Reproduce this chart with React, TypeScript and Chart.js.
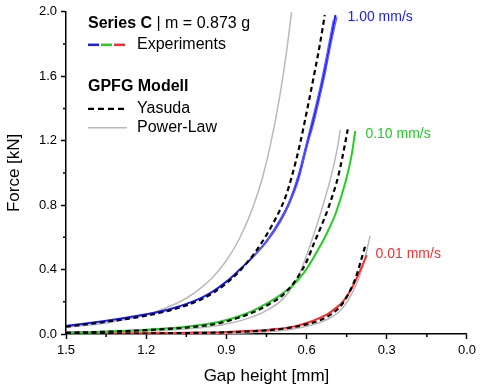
import React, { useEffect, useRef } from "react";
import { Chart, registerables } from "chart.js";
Chart.register(...registerables);

const FONT = "'Liberation Sans', Arial, sans-serif";

// Axis ticks
const xMajorTicks = [1.5, 1.2, 0.9, 0.6, 0.3, 0.0];
const xMinorTicks = [1.35, 1.05, 0.75, 0.45, 0.15];
const yMajorTicks = [0.0, 0.4, 0.8, 1.2, 1.6, 2.0];
const yMinorTicks = [0.2, 0.6, 1.0, 1.4, 1.8];

// Experiments 1.00 mm/s (three runs)
const exp100Gap = [1.50, 1.35, 1.20, 1.10, 1.00, 0.95, 0.90, 0.85, 0.80, 0.75, 0.70, 0.666, 0.63, 0.60, 0.57, 0.55, 0.53, 0.51, 0.492];
const exp100Force = [0.050, 0.082, 0.122, 0.160, 0.220, 0.265, 0.325, 0.400, 0.480, 0.575, 0.700, 0.810, 0.975, 1.170, 1.360, 1.500, 1.650, 1.820, 1.980];
const exp100bGap = [0.80, 0.75, 0.70, 0.666, 0.63, 0.60, 0.57, 0.55, 0.53, 0.51, 0.486];
const exp100bForce = [0.480, 0.570, 0.690, 0.800, 0.955, 1.150, 1.330, 1.470, 1.620, 1.790, 1.970];
const exp100cGap = [0.80, 0.75, 0.70, 0.666, 0.63, 0.60, 0.57, 0.55, 0.53, 0.515, 0.50];
const exp100cForce = [0.480, 0.580, 0.710, 0.820, 0.995, 1.190, 1.390, 1.530, 1.690, 1.820, 1.950];

// Experiments 0.10 mm/s
const exp010Gap = [1.50, 1.35, 1.20, 1.05, 0.95, 0.90, 0.85, 0.80, 0.75, 0.70, 0.65, 0.617, 0.59, 0.567, 0.53, 0.517, 0.492, 0.455, 0.431, 0.418];
const exp010Force = [0.010, 0.016, 0.027, 0.045, 0.068, 0.087, 0.112, 0.145, 0.188, 0.240, 0.305, 0.365, 0.430, 0.495, 0.605, 0.650, 0.745, 0.940, 1.115, 1.260];

// Experiments 0.01 mm/s
const exp001Gap = [1.50, 1.35, 1.20, 1.05, 0.90, 0.80, 0.74, 0.64, 0.60, 0.555, 0.52, 0.492, 0.465, 0.443, 0.42, 0.406, 0.39, 0.375];
const exp001Force = [0.002, 0.003, 0.005, 0.008, 0.013, 0.020, 0.027, 0.049, 0.068, 0.097, 0.125, 0.159, 0.200, 0.251, 0.320, 0.370, 0.430, 0.490];

// GPFG Modell - Yasuda
const yas100Gap = [1.50, 1.35, 1.20, 1.10, 1.00, 0.95, 0.90, 0.85, 0.80, 0.75, 0.71, 0.68, 0.654, 0.626, 0.592, 0.567, 0.55, 0.532];
const yas100Force = [0.045, 0.076, 0.114, 0.152, 0.210, 0.255, 0.315, 0.392, 0.490, 0.615, 0.735, 0.845, 0.985, 1.170, 1.440, 1.650, 1.800, 1.980];
const yas010Gap = [1.50, 1.35, 1.20, 1.05, 0.95, 0.90, 0.80, 0.74, 0.69, 0.641, 0.60, 0.573, 0.545, 0.517, 0.48, 0.455, 0.446];
const yas010Force = [0.008, 0.014, 0.024, 0.040, 0.060, 0.078, 0.135, 0.185, 0.240, 0.333, 0.450, 0.560, 0.670, 0.790, 0.990, 1.190, 1.270];
const yas001Gap = [1.50, 1.20, 1.05, 0.90, 0.80, 0.70, 0.666, 0.60, 0.555, 0.52, 0.48, 0.455, 0.431, 0.415, 0.40, 0.379];
const yas001Force = [0.001, 0.003, 0.006, 0.010, 0.017, 0.030, 0.038, 0.060, 0.082, 0.110, 0.160, 0.215, 0.290, 0.355, 0.436, 0.556];

// GPFG Modell - Power-Law
const pow100Gap = [1.50, 1.35, 1.20, 1.10, 1.05, 1.00, 0.95, 0.90, 0.85, 0.80, 0.765, 0.735, 0.70, 0.676, 0.656];
const pow100Force = [0.042, 0.069, 0.119, 0.180, 0.222, 0.280, 0.354, 0.456, 0.596, 0.790, 0.970, 1.175, 1.480, 1.740, 2.000];
const pow010Gap = [1.50, 1.35, 1.20, 1.05, 0.95, 0.90, 0.80, 0.74, 0.69, 0.654, 0.62, 0.585, 0.542, 0.505, 0.483, 0.474];
const pow010Force = [0.006, 0.010, 0.017, 0.031, 0.048, 0.062, 0.108, 0.155, 0.215, 0.290, 0.400, 0.560, 0.780, 1.000, 1.170, 1.265];
const pow001Gap = [1.50, 1.20, 0.90, 0.80, 0.691, 0.62, 0.567, 0.52, 0.48, 0.45, 0.424, 0.405, 0.387, 0.362];
const pow001Force = [0.000, 0.001, 0.005, 0.010, 0.022, 0.040, 0.062, 0.093, 0.135, 0.195, 0.272, 0.345, 0.436, 0.611];

// Speed labels
const speedLabels = ["1.00 mm/s", "0.10 mm/s", "0.01 mm/s"];
const speedLabelGap = [0.447, 0.380, 0.342];
const speedLabelForce = [1.965, 1.238, 0.494];

const BLUE = "#1a1aff";
const BLUE_LIGHT = "#5a5aff";
const GREEN = "#1ed21e";
const RED = "#ff2b2b";
const GRAY = "#b9b9b9";
const speedColors = [BLUE, "#1ecf1e", RED];

const pts = (g: number[], f: number[]) => g.map((x, i) => ({ x, y: f[i] }));

const decorPlugin = {
  id: "decor",
  afterDraw(chart: any) {
    const { ctx, chartArea, scales } = chart;
    const xs = scales.x, ys = scales.y;
    ctx.save();
    // minor ticks
    ctx.strokeStyle = "#000";
    ctx.lineWidth = 1.5;
    ctx.beginPath();
    xMinorTicks.forEach((v) => {
      const px = xs.getPixelForValue(v);
      ctx.moveTo(px, chartArea.bottom);
      ctx.lineTo(px, chartArea.bottom + 3);
    });
    yMinorTicks.forEach((v) => {
      const py = ys.getPixelForValue(v);
      ctx.moveTo(chartArea.left, py);
      ctx.lineTo(chartArea.left - 3, py);
    });
    ctx.stroke();

    // speed labels
    ctx.font = `14px ${FONT}`;
    ctx.textBaseline = "middle";
    ctx.textAlign = "left";
    speedLabels.forEach((t, i) => {
      ctx.fillStyle = speedColors[i];
      ctx.fillText(t, xs.getPixelForValue(speedLabelGap[i]), ys.getPixelForValue(speedLabelForce[i]));
    });

    // legend
    const lx = chartArea.left + 22;
    const tx = lx + 49;
    const top = chartArea.top;
    ctx.fillStyle = "#000";
    ctx.font = `bold 16px ${FONT}`;
    ctx.fillText("Series C", lx, top + 12);
    const w1 = ctx.measureText("Series C").width;
    ctx.font = `16px ${FONT}`;
    ctx.fillText(" | m = 0.873 g", lx + w1, top + 12);

    ctx.lineWidth = 2.5;
    const cols = [BLUE, GREEN, RED];
    cols.forEach((c, i) => {
      ctx.strokeStyle = c;
      ctx.beginPath();
      ctx.moveTo(lx + i * 13, top + 33);
      ctx.lineTo(lx + i * 13 + 11, top + 33);
      ctx.stroke();
    });
    ctx.fillStyle = "#000";
    ctx.fillText("Experiments", tx, top + 33);

    ctx.font = `bold 16px ${FONT}`;
    ctx.fillText("GPFG Modell", lx, top + 75);

    ctx.font = `16px ${FONT}`;
    ctx.strokeStyle = "#000";
    ctx.lineWidth = 2.2;
    ctx.setLineDash([6, 4]);
    ctx.beginPath();
    ctx.moveTo(lx, top + 97);
    ctx.lineTo(lx + 38, top + 97);
    ctx.stroke();
    ctx.setLineDash([]);
    ctx.fillText("Yasuda", tx, top + 97);

    ctx.strokeStyle = GRAY;
    ctx.lineWidth = 1.5;
    ctx.beginPath();
    ctx.moveTo(lx, top + 116);
    ctx.lineTo(lx + 39, top + 116);
    ctx.stroke();
    ctx.fillText("Power-Law", tx, top + 116);
    ctx.restore();
  },
};

export default function App() {
  const ref = useRef<HTMLCanvasElement | null>(null);
  useEffect(() => {
    if (!ref.current) return;
    const line = (data: any, color: string, width: number, order: number, dash: number[] = []) => ({
      data,
      borderColor: color,
      backgroundColor: color,
      borderWidth: width,
      borderDash: dash,
      pointRadius: 0,
      showLine: true,
      fill: false,
      cubicInterpolationMode: "monotone",
      order,
    });
    const chart = new Chart(ref.current, {
      type: "scatter",
      data: {
        datasets: [
          line(pts(yas100Gap, yas100Force), "#000", 2.2, 0, [5, 3.5]),
          line(pts(yas010Gap, yas010Force), "#000", 2.2, 0, [5, 3.5]),
          line(pts(yas001Gap, yas001Force), "#000", 2.2, 0, [5, 3.5]),
          line(pts(exp100bGap, exp100bForce), BLUE_LIGHT, 1.2, 1),
          line(pts(exp100cGap, exp100cForce), BLUE_LIGHT, 1.2, 1),
          line(pts(exp100Gap, exp100Force), BLUE, 2, 1),
          line(pts(exp010Gap, exp010Force), GREEN, 2, 1),
          line(pts(exp001Gap, exp001Force), RED, 2, 1),
          line(pts(pow100Gap, pow100Force), GRAY, 1.5, 2),
          line(pts(pow010Gap, pow010Force), GRAY, 1.5, 2),
          line(pts(pow001Gap, pow001Force), GRAY, 1.5, 2),
        ] as any,
      },
      options: {
        animation: false,
        responsive: true,
        maintainAspectRatio: false,
        layout: { padding: { top: 10, right: 11, left: 0, bottom: 0 } },
        plugins: { legend: { display: false }, tooltip: { enabled: false } },
        scales: {
          x: {
            type: "linear",
            reverse: true,
            min: 0,
            max: 1.5,
            afterBuildTicks: (s: any) => {
              s.ticks = xMajorTicks.map((v) => ({ value: v }));
            },
            afterFit: (s: any) => {
              s.height = 53;
            },
            ticks: {
              color: "#000",
              font: { family: FONT, size: 13 },
              padding: 4,
              maxRotation: 0,
              autoSkip: false,
              callback: (v: any) => Number(v).toFixed(1),
            },
            grid: { display: true, drawOnChartArea: false, drawTicks: true, tickLength: 5, tickColor: "#000", tickWidth: 1.5 },
            border: { display: true, color: "#000", width: 1.5 },
            title: { display: true, text: "Gap height [mm]", color: "#000", font: { family: FONT, size: 17 }, padding: { top: 4, bottom: 0 } },
          },
          y: {
            type: "linear",
            min: 0,
            max: 2,
            afterBuildTicks: (s: any) => {
              s.ticks = yMajorTicks.map((v) => ({ value: v }));
            },
            afterFit: (s: any) => {
              s.width = 66;
            },
            ticks: {
              color: "#000",
              font: { family: FONT, size: 13 },
              padding: 4,
              autoSkip: false,
              callback: (v: any) => Number(v).toFixed(1),
            },
            grid: { display: true, drawOnChartArea: false, drawTicks: true, tickLength: 5, tickColor: "#000", tickWidth: 1.5 },
            border: { display: true, color: "#000", width: 1.5 },
            title: { display: true, text: "Force [kN]", color: "#000", font: { family: FONT, size: 17 }, padding: { top: 4, bottom: 0 } },
          },
        },
      } as any,
      plugins: [decorPlugin],
    });
    return () => chart.destroy();
  }, []);
  return (
    <div style={{ position: "absolute", left: 0, top: 0, width: 480, height: 387, background: "#fff" }}>
      <canvas ref={ref} />
    </div>
  );
}
